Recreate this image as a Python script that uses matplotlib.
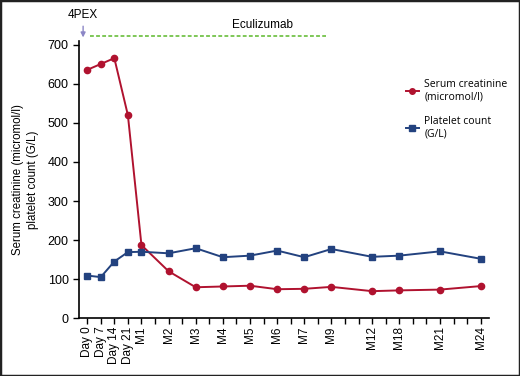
import numpy as np
import matplotlib
matplotlib.use("Agg")
import matplotlib.pyplot as plt
from matplotlib.lines import Line2D
from matplotlib.patches import Rectangle

# time points, positions on the (evenly ticked) x axis
labels = ["Day 0", "Day 7", "Day 14", "Day 21", "M1", "M2", "M3", "M4", "M5",
          "M6", "M7", "M9", "M12", "M18", "M21", "M24"]
slots = [0, 1, 2, 3, 4, 6, 8, 10, 12, 14, 16, 18, 21, 23, 26, 29]

creatinine = [636, 651, 666, 520, 187, 120, 79, 81, 83, 74, 75, 80, 69, 71, 73, 82]
platelets = [109, 105, 145, 169, 170, 166, 179, 156, 160, 173, 156, 177, 157, 160, 171, 152]

ecu_span = [0.2, 17.6]
ecu_level = 722

red = "#B0122F"
blue = "#23427F"
green = "#5BB829"
purple = "#8C86C6"

plt.rcParams["font.family"] = ["Liberation Sans", "DejaVu Sans"]

fig = plt.figure(figsize=(5.2, 3.76), dpi=100)
ax = fig.add_axes([0.152, 0.154, 0.788, 0.737])

ax.plot(slots, creatinine, "-o", color=red, lw=1.4, ms=4.5, clip_on=False, zorder=3)
ax.plot(slots, platelets, "-s", color=blue, lw=1.4, ms=4.5, clip_on=False, zorder=3)

ax.plot(ecu_span, [ecu_level, ecu_level], ls=(0, (2.5, 1.5)), color=green, lw=1.1,
        clip_on=False)
ax.text(12.9, ecu_level + 14, "Eculizumab", fontsize=8.5, ha="center", va="bottom")
ax.annotate("", xy=(-0.3, 712), xytext=(-0.3, 755),
            arrowprops=dict(arrowstyle="-|>", color=purple, lw=1.0,
                            mutation_scale=7), annotation_clip=False)
ax.text(-0.3, 762, "4PEX", fontsize=8.5, ha="center", va="bottom")

ax.set_xlim(-0.6, 29.6)
ax.set_ylim(0, 710)
ax.set_yticks(range(0, 701, 100))
ax.set_xticks(range(0, 30))
tick_text = [""] * 30
for s, lab in zip(slots, labels):
    tick_text[s] = lab
ax.set_xticklabels(tick_text, rotation=90, fontsize=8.5)
ax.tick_params(axis="y", labelsize=9, length=4, width=1)
ax.tick_params(axis="x", length=4, width=1, pad=2)
for side in ["top", "right"]:
    ax.spines[side].set_visible(False)
for side in ["left", "bottom"]:
    ax.spines[side].set_linewidth(1.2)

ax.set_ylabel("Serum creatinine (micromol/l)\nplatelet count (G/L)", fontsize=8.3,
              linespacing=1.35, labelpad=6)

handles = [Line2D([], [], color=red, marker="o", ms=4, lw=1.4),
           Line2D([], [], color=blue, marker="s", ms=4, lw=1.4)]
fig.legend(handles, ["Serum creatinine\n(micromol/l)", "Platelet count\n(G/L)"],
           loc="upper left", bbox_to_anchor=(0.762, 0.815), frameon=False,
           prop=dict(family=["Open Sans", "DejaVu Sans"], size=7.5),
           handlelength=1.3, handletextpad=0.5, labelspacing=1.3)

fig.patches.append(Rectangle((0, 0), 1, 1, transform=fig.transFigure, fill=False,
                             edgecolor="#222222", lw=2.5))

fig.savefig("out.png", dpi=100)
